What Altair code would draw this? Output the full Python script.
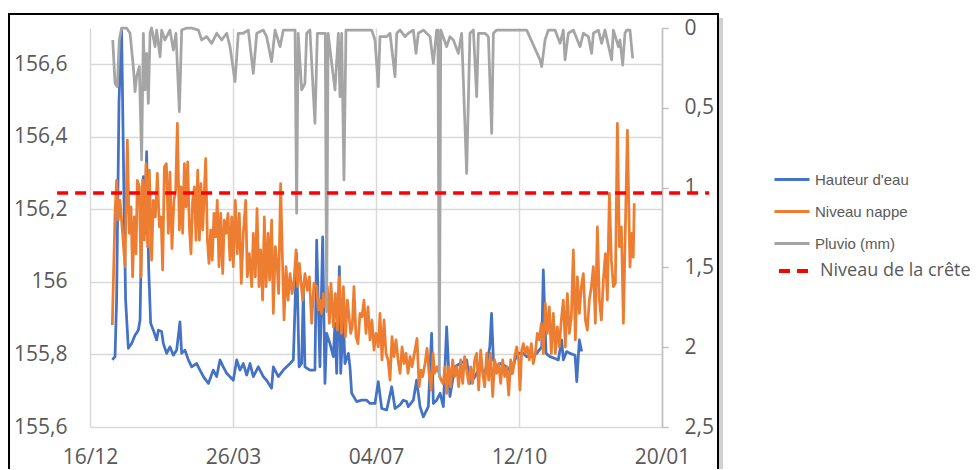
import json
import altair as alt
import pandas as pd

# ---- axes / categories ----
jours_ticks = [0, 100, 200, 300, 400]
etiquettes_x = ["16/12", "26/03", "04/07", "12/10", "20/01"]
ticks_gauche = [155.6, 155.8, 156.0, 156.2, 156.4, 156.6]
ticks_droite = [0, 0.5, 1, 1.5, 2, 2.5]
domaine_gauche = [155.6, 156.7]
domaine_droite = [0, 2.5]

series = ["Hauteur d'eau", "Niveau nappe", "Pluvio (mm)"]
couleurs = ["#4472C4", "#ED7D31", "#A5A5A5"]

# ---- series values: (jour depuis 16/12, valeur) ----
hauteur_eau = [
    (15.6, 155.785), (17.5, 155.794), (18.6, 155.950), (20.3, 156.501), (22.1, 156.694), (23.8, 156.225),
    (24.9, 155.950), (26.8, 155.817), (29.1, 155.830), (31.5, 155.853), (33.8, 155.867), (35.0, 155.895),
    (36.4, 156.225), (37.3, 156.290), (38.2, 156.134), (39.6, 156.359), (41.0, 156.042), (42.4, 155.886),
    (44.3, 155.867), (46.6, 155.840), (47.8, 155.867), (50.1, 155.863), (51.3, 155.830), (53.6, 155.803),
    (55.9, 155.821), (58.3, 155.798), (60.6, 155.812), (62.9, 155.890), (64.1, 155.803), (66.4, 155.812),
    (68.8, 155.785), (71.1, 155.766), (74.6, 155.775), (76.9, 155.757), (79.3, 155.739), (82.8, 155.720),
    (86.2, 155.757), (88.6, 155.739), (90.9, 155.785), (93.2, 155.766), (95.6, 155.748), (100.2, 155.729),
    (102.6, 155.785), (104.9, 155.757), (107.2, 155.775), (109.6, 155.743), (111.9, 155.775), (114.2, 155.739),
    (117.7, 155.766), (121.2, 155.739), (123.5, 155.729), (127.0, 155.707), (128.2, 155.766), (131.7, 155.739),
    (135.2, 155.757), (139.9, 155.775), (142.2, 155.785), (144.5, 156.078), (146.2, 155.766), (148.0, 155.775),
    (149.2, 155.977), (150.3, 155.766), (153.8, 155.757), (157.3, 155.757), (158.5, 156.115), (160.8, 155.766),
    (162.7, 156.124), (164.3, 155.720), (165.5, 155.858), (167.8, 155.830), (170.2, 155.794), (171.3, 155.886),
    (172.5, 155.748), (174.4, 156.042), (175.3, 155.748), (177.2, 155.895), (178.3, 155.775), (180.7, 155.803),
    (181.8, 155.766), (183.0, 155.693), (186.5, 155.670), (190.0, 155.674), (193.5, 155.674), (195.8, 155.665),
    (199.3, 155.665), (201.6, 155.725), (204.0, 155.651), (207.5, 155.647), (211.0, 155.711), (213.3, 155.651),
    (216.8, 155.661), (219.1, 155.674), (221.4, 155.670), (222.6, 155.656), (226.1, 155.674), (228.4, 155.729),
    (230.8, 155.656), (233.1, 155.628), (236.6, 155.656), (238.9, 155.858), (240.1, 155.665), (242.4, 155.674),
    (244.8, 155.693), (247.1, 155.656), (249.4, 155.876), (251.7, 155.684), (255.2, 155.766), (258.7, 155.775),
    (263.4, 155.785), (265.7, 155.720), (269.2, 155.739), (272.7, 155.766), (276.2, 155.748), (279.6, 155.821),
    (280.8, 155.913), (282.1, 155.785), (284.4, 155.766), (286.7, 155.775), (291.4, 155.766), (294.9, 155.748),
    (297.2, 155.785), (299.5, 155.803), (303.0, 155.803), (305.4, 155.794), (308.9, 155.794), (312.4, 155.803),
    (315.9, 155.821), (317.0, 156.033), (318.9, 155.803), (321.7, 155.794), (325.2, 155.789), (327.5, 155.785),
    (329.8, 155.840), (331.0, 155.785), (333.3, 155.808), (335.7, 155.803), (339.2, 155.798), (340.4, 155.725),
    (342.2, 155.840), (343.8, 155.808),
]

niveau_nappe = [
    (15.6, 155.881), (17.5, 156.189), (18.6, 156.280), (19.8, 156.170), (21.0, 156.225), (22.8, 156.134),
    (24.5, 156.042), (26.1, 156.391), (27.5, 156.134), (28.7, 156.207), (29.8, 156.014), (31.0, 156.179),
    (32.2, 156.078), (33.1, 156.280), (34.5, 156.262), (35.7, 156.014), (36.8, 156.280), (38.0, 156.115),
    (39.2, 156.326), (40.3, 156.097), (41.5, 156.308), (43.1, 156.060), (44.3, 156.225), (45.7, 156.179),
    (47.1, 156.299), (48.5, 156.152), (49.7, 156.179), (50.8, 156.033), (52.0, 156.317), (53.4, 156.326),
    (54.8, 156.134), (55.9, 156.303), (57.3, 156.092), (58.7, 156.225), (59.9, 156.253), (61.1, 156.437),
    (62.5, 156.143), (63.6, 156.262), (64.8, 156.134), (66.0, 156.326), (67.1, 156.207), (68.3, 156.331),
    (69.5, 156.152), (70.6, 156.078), (71.8, 156.225), (73.0, 156.262), (74.1, 156.115), (75.3, 156.308),
    (76.5, 156.115), (77.6, 156.271), (78.8, 156.143), (80.0, 156.253), (80.9, 156.340), (82.1, 156.115),
    (83.2, 156.051), (84.4, 156.143), (85.5, 156.060), (86.7, 156.189), (87.9, 156.124), (89.0, 156.225),
    (90.2, 156.042), (91.4, 156.189), (92.8, 156.023), (93.9, 156.170), (95.1, 156.134), (96.5, 156.189),
    (97.9, 156.060), (99.1, 156.179), (100.2, 156.042), (101.6, 156.225), (103.0, 156.078), (104.4, 156.189),
    (105.8, 155.996), (107.2, 156.134), (108.9, 156.225), (110.0, 156.014), (111.4, 156.078), (113.1, 155.987),
    (114.2, 156.134), (115.6, 156.014), (116.8, 156.202), (118.2, 155.987), (119.3, 156.088), (120.7, 155.950),
    (121.9, 156.179), (123.1, 155.987), (124.5, 156.134), (125.6, 156.005), (127.0, 156.170), (128.2, 155.913),
    (129.6, 156.097), (130.8, 156.051), (131.9, 155.968), (133.3, 156.271), (134.7, 156.042), (135.7, 155.895),
    (137.1, 156.042), (138.5, 155.950), (139.9, 156.023), (141.3, 155.968), (142.7, 156.005), (144.1, 156.088),
    (145.2, 155.987), (146.4, 156.051), (148.7, 155.950), (150.3, 156.023), (152.0, 155.977), (153.4, 156.014),
    (155.0, 155.886), (156.6, 155.996), (158.5, 155.987), (159.7, 155.922), (160.8, 155.950), (162.0, 155.913),
    (163.2, 155.968), (164.3, 155.931), (166.0, 155.987), (167.4, 155.886), (168.5, 155.996), (170.2, 155.876),
    (171.6, 155.968), (173.0, 155.867), (174.4, 156.014), (175.8, 155.858), (177.2, 155.987), (178.6, 155.849),
    (180.0, 155.950), (181.4, 155.895), (182.3, 155.858), (183.4, 155.876), (184.6, 155.987), (186.0, 155.849),
    (187.4, 155.830), (188.8, 155.913), (190.2, 155.904), (191.6, 155.950), (193.0, 155.858), (194.4, 155.931),
    (195.8, 155.840), (197.2, 155.895), (198.6, 155.812), (200.0, 155.858), (201.6, 155.821), (202.8, 155.913),
    (204.2, 155.785), (205.6, 155.895), (207.0, 155.803), (208.4, 155.785), (209.8, 155.729), (211.2, 155.849),
    (212.6, 155.794), (214.0, 155.840), (215.4, 155.785), (216.8, 155.748), (218.2, 155.821), (219.6, 155.775),
    (221.0, 155.803), (222.4, 155.748), (223.8, 155.794), (225.2, 155.766), (228.7, 155.844), (230.1, 155.711),
    (231.5, 155.757), (232.6, 155.739), (234.3, 155.775), (235.7, 155.817), (237.1, 155.748), (238.5, 155.702),
    (239.9, 155.803), (241.0, 155.748), (242.7, 155.766), (244.1, 155.748), (245.5, 155.729), (246.9, 155.720),
    (248.3, 155.766), (249.4, 155.693), (251.0, 155.766), (252.2, 155.711), (253.6, 155.785), (255.0, 155.739),
    (256.4, 155.766), (257.8, 155.711), (259.2, 155.785), (260.6, 155.720), (262.0, 155.794), (263.4, 155.757),
    (264.8, 155.720), (266.2, 155.766), (267.6, 155.720), (269.0, 155.785), (270.4, 155.803), (271.8, 155.702),
    (273.2, 155.812), (274.6, 155.748), (276.0, 155.711), (277.4, 155.803), (278.8, 155.729), (280.2, 155.803),
    (281.6, 155.684), (283.0, 155.785), (284.4, 155.748), (285.8, 155.775), (287.2, 155.720), (288.6, 155.785),
    (290.0, 155.739), (291.4, 155.766), (292.8, 155.688), (294.2, 155.785), (295.6, 155.748), (297.0, 155.794),
    (298.4, 155.821), (299.8, 155.785), (300.7, 155.702), (301.9, 155.812), (303.0, 155.830), (304.4, 155.803),
    (305.8, 155.821), (307.2, 155.785), (308.6, 155.830), (310.0, 155.775), (311.4, 155.803), (312.8, 155.858),
    (314.2, 155.840), (315.6, 155.886), (317.0, 155.803), (318.4, 155.941), (319.8, 155.858), (321.2, 155.931),
    (322.6, 155.803), (324.0, 155.913), (325.4, 155.803), (326.8, 155.876), (328.2, 155.821), (329.6, 155.895),
    (331.0, 155.950), (332.4, 155.821), (333.8, 155.968), (335.2, 155.858), (336.6, 155.904), (338.0, 156.088),
    (339.4, 155.840), (340.8, 156.014), (342.2, 155.913), (343.6, 155.987), (345.0, 156.023), (346.4, 155.895),
    (347.8, 155.867), (349.2, 155.950), (350.6, 155.987), (352.0, 156.042), (353.4, 155.886), (354.8, 156.152),
    (356.2, 155.950), (357.6, 155.895), (359.0, 156.005), (360.4, 156.078), (361.8, 155.950), (363.2, 156.244),
    (364.6, 156.060), (366.0, 155.987), (367.4, 155.996), (368.8, 156.437), (370.2, 156.097), (371.6, 156.152),
    (373.0, 155.886), (374.4, 156.152), (375.8, 156.418), (377.6, 156.041), (378.8, 156.134), (379.9, 156.068),
    (380.6, 156.217),
]

pluvio = [
    (15.9, 0.075), (17.5, 0.347), (19.1, 0.368), (20.5, 0.075), (22.1, 0.0), (25.6, 0.0), (28.0, 0.033),
    (30.3, 0.242), (31.5, 0.399), (32.6, 0.305), (34.5, 0.242), (36.1, 0.827), (37.3, 0.033), (38.5, 0.388),
    (39.6, 0.159), (40.8, 0.472), (42.0, 0.033), (43.1, 0.0), (45.5, 0.117), (46.6, 0.013), (49.0, 0.180),
    (50.1, 0.013), (52.4, 0.075), (55.9, 0.013), (58.3, 0.138), (60.1, 0.033), (62.5, 0.524), (64.1, 0.013),
    (67.6, 0.0), (71.1, 0.0), (75.8, 0.013), (78.1, 0.075), (81.6, 0.054), (85.1, 0.096), (88.6, 0.033),
    (92.1, 0.075), (95.6, 0.033), (97.9, 0.117), (101.4, 0.336), (103.7, 0.033), (107.2, 0.033), (110.7, 0.013),
    (114.2, 0.284), (116.6, 0.033), (121.2, 0.013), (123.5, 0.054), (127.0, 0.211), (129.4, 0.013),
    (132.9, 0.117), (135.2, 0.013), (143.4, 0.013), (144.5, 1.161), (145.6, 0.033), (148.0, 0.388),
    (149.2, 0.368), (150.3, 0.347), (151.5, 0.033), (153.8, 0.013), (157.3, 0.597), (159.0, 0.033),
    (164.5, 0.033), (165.5, 1.777), (166.5, 0.033), (171.3, 0.388), (173.7, 0.033), (174.8, 0.430),
    (176.0, 0.033), (177.6, 0.952), (179.0, 0.013), (181.8, 0.013), (188.8, 0.013), (197.0, 0.013),
    (199.3, 0.075), (201.6, 0.368), (202.8, 0.054), (207.5, 0.054), (209.8, 0.033), (213.3, 0.305),
    (214.5, 0.033), (216.8, 0.013), (220.3, 0.054), (222.6, 0.033), (226.1, 0.013), (228.0, 0.159),
    (229.6, 0.033), (233.1, 0.013), (237.8, 0.054), (240.1, 0.221), (242.4, 0.013), (243.3, 0.013),
    (244.3, 2.185), (245.3, 0.013), (249.4, 0.117), (251.7, 0.054), (254.1, 0.075), (257.6, 0.159),
    (259.9, 0.033), (263.4, 0.911), (265.7, 0.033), (268.1, 0.013), (270.4, 0.430), (271.6, 0.033),
    (276.2, 0.033), (278.6, 0.054), (280.9, 0.660), (282.1, 0.033), (284.4, 0.013), (293.7, 0.013),
    (305.4, 0.013), (314.7, 0.2), (315.9, 0.242), (318.2, 0.075), (320.5, 0.013), (325.2, 0.013),
    (328.7, 0.096), (331.0, 0.013), (332.2, 0.2), (334.5, 0.033), (338.0, 0.013), (342.7, 0.117),
    (345.0, 0.033), (348.5, 0.054), (350.8, 0.159), (352.0, 0.033), (355.5, 0.013), (357.8, 0.096),
    (360.1, 0.013), (364.8, 0.2), (366.0, 0.013), (369.5, 0.117), (370.6, 0.075), (372.5, 0.232),
    (374.1, 0.033), (375.3, 0.013), (377.6, 0.013), (379.5, 0.190),
]

nom_crete = "Niveau de la crête"
niveau_crete = 156.245
crete_debut_fin = [-23, 433]

# ---- tables ----
rows = []
for nom, pts in ((series[0], hauteur_eau), (series[1], niveau_nappe)):
    for d, v in pts:
        rows.append({"jour": d, "valeur": v, "serie": nom})
df_niveaux = pd.DataFrame(rows)
df_pluvio = pd.DataFrame([{"jour": d, "pluie": p, "serie": series[2]} for d, p in pluvio])
df_crete = pd.DataFrame({"debut": [crete_debut_fin[0]], "fin": [crete_debut_fin[1]],
                         "niveau": [niveau_crete], "nom": [nom_crete]})

GRIS_TXT = "#595959"
FONT = "Open Sans"
label_x = f"{json.dumps(etiquettes_x)}[indexof({json.dumps(jours_ticks)}, datum.value)]"
label_dec = "replace(format(datum.value, '.1~f'), '.', ',')"

x_scale = alt.Scale(domain=[jours_ticks[0], jours_ticks[-1]], nice=False, zero=False)
x_axis = alt.Axis(values=jours_ticks, labelExpr=label_x, title=None, grid=True, gridColor="#D9D9D9",
                  gridWidth=1.5, domain=False, ticks=False, tickSize=0, labelFont=FONT, labelFontSize=21,
                  labelColor=GRIS_TXT, labelPadding=19, labelFlush=False, labelOverlap=False)

color_enc = alt.Color("serie:N", scale=alt.Scale(domain=series, range=couleurs),
                      legend=alt.Legend(title=None, orient="none", legendX=682, legendY=144,
                                        symbolType="M-1,0H6", symbolSize=100, symbolStrokeWidth=3,
                                        labelOffset=28, labelFont="Liberation Sans", labelFontSize=15,
                                        labelColor=GRIS_TXT, rowPadding=16))

cadre = alt.Chart(pd.DataFrame({"k": [0]})).mark_rect(
    filled=False, stroke="black", strokeWidth=2, clip=False
).encode(x=alt.value(-81), x2=alt.value(628), y=alt.value(-14), y2=alt.value(480))

ombre = alt.Chart(pd.DataFrame({"k": [0]})).mark_rule(
    stroke="#D0D0D0", strokeWidth=4, clip=False
).encode(x=alt.value(631), y=alt.value(-10), y2=alt.value(480))

niveaux = alt.Chart(df_niveaux).mark_line(strokeWidth=2.75, strokeJoin="round").encode(
    x=alt.X("jour:Q", scale=x_scale, axis=x_axis),
    y=alt.Y("valeur:Q", scale=alt.Scale(domain=domaine_gauche, nice=False, zero=False),
            axis=alt.Axis(values=ticks_gauche, labelExpr=label_dec, orient="left", title=None, grid=True,
                          gridColor="#D9D9D9", gridWidth=1.5, domain=False, ticks=False, tickSize=0,
                          labelFont=FONT, labelFontSize=21, labelColor=GRIS_TXT, labelPadding=23,
                          labelFlush=False, labelOverlap=False)),
    color=color_enc,
    detail="serie:N",
)

pluie = alt.Chart(df_pluvio).mark_line(strokeWidth=2.75, strokeJoin="round").encode(
    x=alt.X("jour:Q", scale=x_scale, axis=x_axis),
    y=alt.Y("pluie:Q", scale=alt.Scale(domain=domaine_droite, reverse=True, nice=False, zero=False),
            axis=alt.Axis(values=ticks_droite, labelExpr=label_dec, orient="right", title=None, grid=False,
                          domain=True, domainColor="#BFBFBF", domainWidth=1.5, ticks=True, tickColor="#BFBFBF",
                          tickWidth=1.5, tickSize=6, labelFont=FONT, labelFontSize=21, labelColor=GRIS_TXT,
                          labelPadding=16, labelFlush=False, labelOverlap=False)),
    color=color_enc,
)

crete = alt.Chart(df_crete).mark_rule(color="#FF0000", strokeWidth=3.5, clip=False).encode(
    x=alt.X("debut:Q", scale=x_scale, axis=x_axis),
    x2="fin:Q",
    y=alt.Y("niveau:Q", scale=alt.Scale(domain=domaine_gauche, nice=False, zero=False), axis=None),
    strokeDash=alt.StrokeDash("nom:N", scale=alt.Scale(domain=[nom_crete], range=[[11, 7]]),
                              legend=alt.Legend(title=None, orient="none", legendX=685, legendY=234,
                                                symbolType="M-1,0H6", symbolSize=100,
                                                symbolStrokeColor="#FF0000", symbolStrokeWidth=4,
                                                symbolDash=[13, 4], labelOffset=27, labelFont=FONT,
                                                labelFontSize=18, labelColor=GRIS_TXT)),
)

chart = alt.layer(ombre, cadre, niveaux, pluie, crete).resolve_scale(y="independent").properties(
    width=572, height=399,
    autosize=alt.AutoSizeParams(type="none"),
    padding={"left": 82, "top": 20, "right": 308, "bottom": 42},
    background="white",
).configure_view(stroke="transparent")

chart.save("out.html", embed_options={"renderer": "svg", "actions": False})
